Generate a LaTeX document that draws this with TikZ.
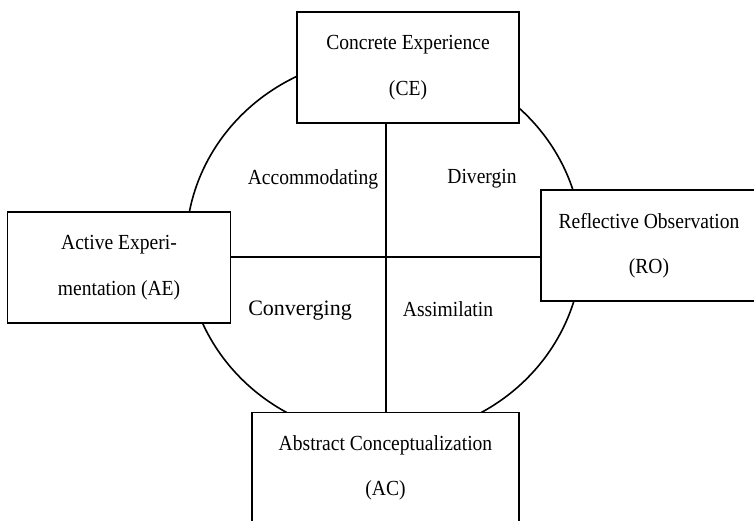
\documentclass[tikz,border=0pt]{standalone}
\usepackage{fontspec}
\setmainfont{Liberation Serif}[FakeStretch=0.91]
\newfontfamily\widefont{Liberation Serif}
\tikzset{
  stagebox/.style={draw=black, line width=1.6pt, fill=white, rectangle, align=center,
    inner sep=0pt, font=\fontsize{21.5}{45.5}\selectfont},
  quadlabel/.style={inner sep=0pt, font=\fontsize{21.5}{24}\selectfont},
  linkline/.style={draw=black, line width=1.6pt}
}
\begin{document}
\begin{tikzpicture}[x=1pt,y=-1pt]
\useasboundingbox (0,0) rectangle (754,521);
\clip (0,0) rectangle (754,521);
% outer cycle
\draw[linkline] (384,247) ellipse [x radius=198, y radius=190];
% cross
\coordinate (cross) at (386,257);
% boxes
\node[stagebox, minimum width=222pt, minimum height=111pt] (CE) at (408,67.5) {Concrete Experience\\(CE)};
\node[stagebox, minimum width=223pt, minimum height=111pt] (AE) at (119,267.5) {Active Experi-\\mentation (AE)};
\node[stagebox, minimum width=216pt, minimum height=111pt] (RO) at (649,245.5) {Reflective Observation\\(RO)};
\node[stagebox, minimum width=267pt, minimum height=111pt] (AC) at (385.5,468) {Abstract Conceptualization\\(AC)};
% axes
\draw[linkline] (cross |- CE.south) -- (cross |- AC.north);
\draw[linkline] (AE.east |- cross) -- (RO.west |- cross);
% quadrant labels
\node[quadlabel] (acc) at (313,179) {Accommodating};
\node[quadlabel] (div) at (482,179) {Divergin};
\node[inner sep=0pt, font=\widefont\fontsize{22}{24}\selectfont] (conv) at (300,311) {Converging};
\node[quadlabel] (assim) at (448,309) {Assimilatin};
\end{tikzpicture}
\end{document}
